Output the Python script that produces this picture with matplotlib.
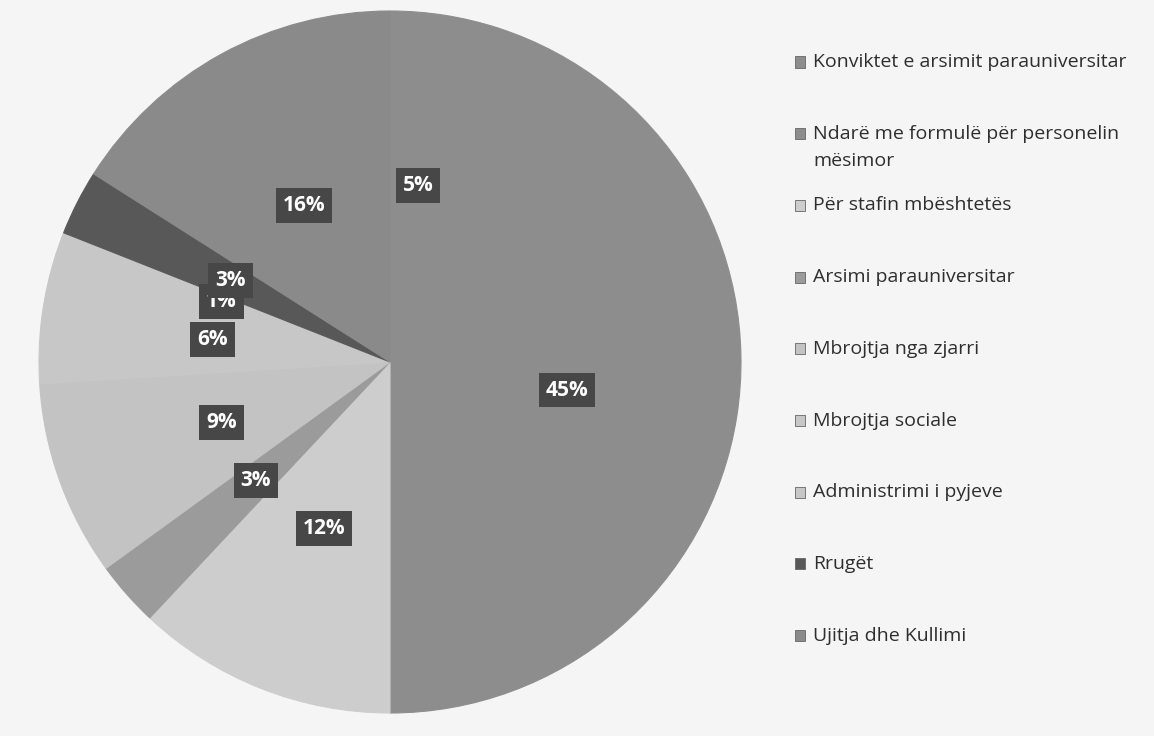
import matplotlib.pyplot as plt
from matplotlib.patches import Rectangle

# kategorite dhe perqindjet (rendi i legjendes)
labels = ['Konviktet e arsimit parauniversitar',
          'Ndarë me formulë për personelin\nmësimor',
          'Për stafin mbështetës',
          'Arsimi parauniversitar',
          'Mbrojtja nga zjarri',
          'Mbrojtja sociale',
          'Administrimi i pyjeve',
          'Rrugët',
          'Ujitja dhe Kullimi']
values = [5, 45, 12, 3, 9, 6, 1, 3, 16]
colors = ['#8d8d8d', '#8d8d8d', '#cdcdcd', '#9b9b9b', '#c3c3c3',
          '#c7c7c7', '#c7c7c7', '#585858', '#8a8a8a']

plt.rcParams['font.family'] = ['Open Sans', 'DejaVu Sans']

fig = plt.figure(figsize=(11.54, 7.36), dpi=100)
fig.patch.set_facecolor('#f5f5f5')

ax = fig.add_axes([39 / 1154, 23 / 736, 702 / 1154, 702 / 736])
wedges, texts, autotexts = ax.pie(values, colors=colors, startangle=90, counterclock=False,
                                  autopct='%d%%', pctdistance=0.51,
                                  wedgeprops=dict(linewidth=0.8))
for w in wedges:
    w.set_edgecolor(w.get_facecolor())
for t in autotexts:
    t.set_color('white')
    t.set_fontsize(15)
    t.set_fontweight('bold')
    t.set_bbox(dict(facecolor='#474747', edgecolor='none', pad=5))
    t.set_zorder(5)
ax.set_xlim(-1, 1)
ax.set_ylim(-1, 1)
ax.set_aspect('equal')

# legjenda e vizatuar me dore
top = 1 - 62 / 736
step = 71.7 / 736
for i, (lab, col) in enumerate(zip(labels, colors)):
    y = top - i * step
    fig.patches.append(Rectangle((795 / 1154, y - 5.5 / 736), 10 / 1154, 11 / 736,
                                 transform=fig.transFigure, facecolor=col,
                                 edgecolor='#666666', linewidth=0.6))
    lines = lab.split('\n')
    for j, line in enumerate(lines):
        fig.text(813 / 1154, y - j * 27 / 736, line, fontsize=14,
                 color='#2e2e2e', va='center')

fig.savefig('out.png', dpi=100, facecolor=fig.get_facecolor())
